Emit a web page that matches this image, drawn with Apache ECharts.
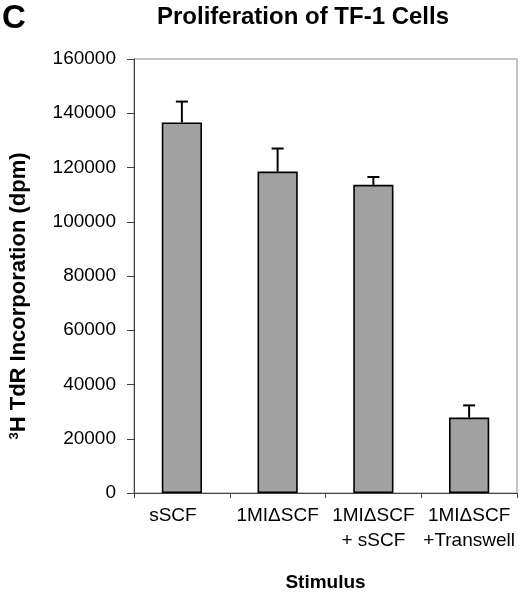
<!DOCTYPE html>
<html>
<head>
<meta charset="utf-8">
<script src="https://cdn.jsdelivr.net/npm/echarts@6/dist/echarts.min.js"></script>
<style>
html,body{margin:0;padding:0;background:#fff;}
#chart{width:520px;height:597px;}
</style>
</head>
<body>
<div id="chart"></div>
<script>
var categories = ['sSCF', '1MI\u0394SCF', '1MI\u0394SCF\n+ sSCF', '1MI\u0394SCF\n+Transwell'];
var values = [136600, 118500, 113600, 27800];
var errors = [7700, 8500, 2900, 4500];
var yTicks = { min: 0, max: 160000, interval: 20000 };

var FONT = "'Liberation Sans', Arial, sans-serif";
var chart = echarts.init(document.getElementById('chart'), null, { renderer: 'canvas' });

var errData = values.map(function (v, i) { return [i, v, v + errors[i]]; });
var catData = categories.map(function (c, i) {
  return i === 0 ? { value: c, textStyle: { padding: [0, 18, 0, 0] } } : c;
});

var option = {
  backgroundColor: '#ffffff',
  animation: false,
  title: {
    text: 'Proliferation of TF-1 Cells',
    left: 298, top: 0, textAlign: 'center',
    textStyle: { fontFamily: FONT, fontSize: 24, fontWeight: 'bold', color: '#000' }
  },
  graphic: [{
    type: 'text', left: 2, top: 2,
    style: { text: 'C', fontFamily: FONT, fontSize: 33, fontWeight: 'bold', fill: '#000' }
  }],
  grid: { left: 120, right: 3, top: 59, bottom: 102, show: true, borderColor: '#8a8a8a', borderWidth: 1, backgroundColor: 'transparent' },
  xAxis: {
    type: 'category',
    data: catData,
    name: 'Stimulus',
    nameLocation: 'middle',
    nameGap: 80,
    nameTextStyle: { fontFamily: FONT, fontSize: 19, fontWeight: 'bold', color: '#000' },
    axisLine: { show: true, lineStyle: { color: '#444', width: 1 } },
    axisTick: { show: true, alignWithLabel: false, length: 5, lineStyle: { color: '#444' } },
    axisLabel: { fontFamily: FONT, fontSize: 19, color: '#000', margin: 10, lineHeight: 25, interval: 0 },
    splitLine: { show: false }
  },
  yAxis: {
    type: 'value',
    min: yTicks.min, max: yTicks.max, interval: yTicks.interval,
    name: '{sup|3}{main|H TdR Incorporation (dpm)}',
    nameLocation: 'middle',
    nameGap: 104,
    nameRotate: 90,
    nameTextStyle: {
      padding: [0, 40, 0, 0],
      rich: {
        sup: { fontFamily: FONT, fontSize: 13, fontWeight: 'bold', color: '#000', verticalAlign: 'top', lineHeight: 22 },
        main: { fontFamily: FONT, fontSize: 22, fontWeight: 'bold', color: '#000', lineHeight: 22 }
      }
    },
    axisLine: { show: true, lineStyle: { color: '#444', width: 1 } },
    axisTick: { show: true, length: 7, lineStyle: { color: '#444' } },
    axisLabel: {
      fontFamily: FONT, fontSize: 19, color: '#000', margin: 18,
      formatter: function (v) { return String(v); }
    },
    splitLine: { show: false }
  },
  series: [{
    type: 'bar',
    data: values,
    barWidth: '42%',
    itemStyle: { color: '#a2a2a2', borderColor: '#000', borderWidth: 1.6 },
    z: 2
  }, {
    type: 'custom',
    data: errData,
    z: 3,
    renderItem: function (params, api) {
      var x = api.value(0);
      var p0 = api.coord([x, api.value(1)]);
      var p1 = api.coord([x, api.value(2)]);
      var hw = 6;
      return {
        type: 'group',
        children: [
          { type: 'line', shape: { x1: p0[0], y1: p0[1], x2: p1[0], y2: p1[1] }, style: { stroke: '#000', lineWidth: 2 } },
          { type: 'line', shape: { x1: p1[0] - hw, y1: p1[1], x2: p1[0] + hw, y2: p1[1] }, style: { stroke: '#000', lineWidth: 2 } }
        ]
      };
    }
  }]
};
chart.setOption(option);
</script>
</body>
</html>
